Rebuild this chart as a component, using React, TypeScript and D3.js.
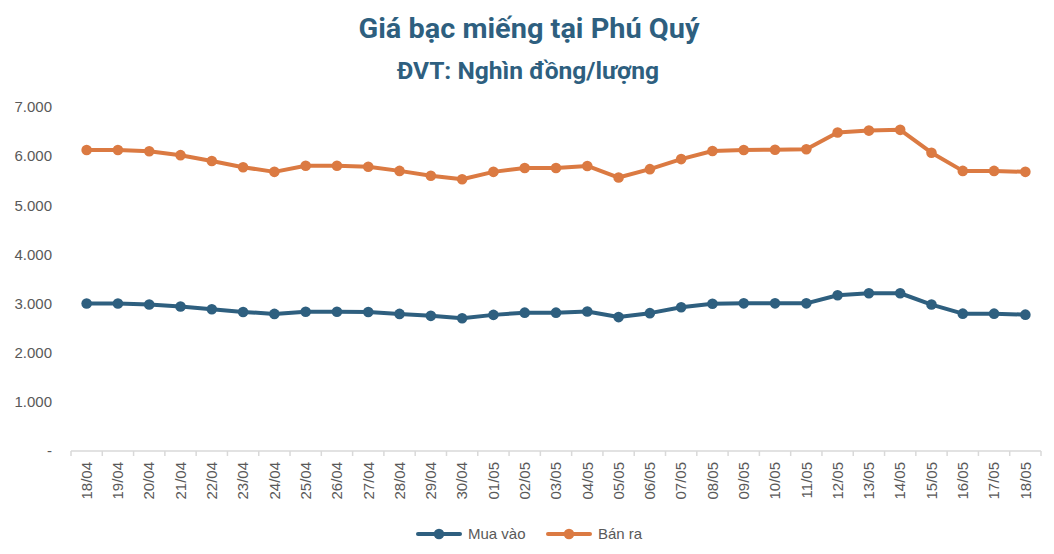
import React from "react";
import * as d3 from "d3";

const dates = [
  "18/04", "19/04", "20/04", "21/04", "22/04", "23/04", "24/04", "25/04", "26/04", "27/04",
  "28/04", "29/04", "30/04", "01/05", "02/05", "03/05", "04/05", "05/05", "06/05", "07/05",
  "08/05", "09/05", "10/05", "11/05", "12/05", "13/05", "14/05", "15/05", "16/05", "17/05", "18/05",
];

const muaVao = [
  3000, 3000, 2980, 2940, 2885, 2830, 2790, 2835, 2835, 2830,
  2790, 2750, 2700, 2770, 2815, 2815, 2840, 2725, 2805, 2925,
  2995, 3005, 3005, 3005, 3170, 3210, 3210, 2980, 2795, 2795, 2775,
];

const banRa = [
  6125, 6125, 6100, 6020, 5900, 5775, 5680, 5805, 5805, 5785,
  5700, 5600, 5530, 5680, 5760, 5760, 5800, 5565, 5735, 5940,
  6105, 6125, 6130, 6140, 6480, 6520, 6535, 6070, 5700, 5700, 5680,
];

const yTicks = [0, 1000, 2000, 3000, 4000, 5000, 6000, 7000];

const BLUE = "#2e5f7f";
const ORANGE = "#db7a42";
const TEXT = "#595959";
const FONT = "'Liberation Sans', Arial, sans-serif";
const TITLE_FONT = "'Liberation Sans Narrow', 'Roboto', 'Liberation Sans', sans-serif";

const W = 1054;
const H = 554;

const vn = d3.formatLocale({ decimal: ",", thousands: ".", grouping: [3], currency: ["", ""] });
const fmt = vn.format(",d");

export default function App() {
  const x = d3.scaleBand<string>().domain(dates).range([71, 1041]).padding(0);
  const y = d3.scaleLinear().domain([0, 7000]).range([451, 107]);
  const cx = (d: string) => (x(d) ?? 0) + x.bandwidth() / 2;

  const line = d3.line<number>()
    .x((_, i) => cx(dates[i]))
    .y((v) => y(v));

  const series = [
    { name: "Mua vào", values: muaVao, color: BLUE },
    { name: "Bán ra", values: banRa, color: ORANGE },
  ];

  const legend = [
    { name: "Mua vào", color: BLUE, x: 418 },
    { name: "Bán ra", color: ORANGE, x: 548 },
  ];

  return (
    <svg
      width={W}
      height={H}
      style={{ position: "absolute", left: 0, top: 0, background: "#fff" }}
    >
      {/* titles */}
      <text
        x={529}
        y={38}
        textAnchor="middle"
        fill={BLUE}
        fontFamily={TITLE_FONT}
        fontWeight="bold"
        fontSize={27}
        textLength={341}
        lengthAdjust="spacingAndGlyphs"
      >
        Giá bạc miếng tại Phú Quý
      </text>
      <text
        x={528}
        y={79}
        textAnchor="middle"
        fill={BLUE}
        fontFamily={TITLE_FONT}
        fontWeight="bold"
        fontSize={24}
        textLength={262}
        lengthAdjust="spacingAndGlyphs"
      >
        ĐVT: Nghìn đồng/lượng
      </text>

      {/* y axis labels */}
      {yTicks.map((t) => (
        <text
          key={t}
          x={52}
          y={y(t)}
          dy="0.35em"
          textAnchor="end"
          fill={TEXT}
          fontFamily={FONT}
          fontSize={15}
        >
          {t === 0 ? "-" : fmt(t)}
        </text>
      ))}

      {/* x axis */}
      <line x1={71} x2={1041} y1={y(0)} y2={y(0)} stroke="#d9d9d9" strokeWidth={1.5} />
      {dates.concat(["end"]).map((d, i) => {
        const px = 71 + i * x.bandwidth();
        return <line key={"t" + i} x1={px} x2={px} y1={y(0)} y2={y(0) + 5} stroke="#d9d9d9" strokeWidth={1.5} />;
      })}
      {dates.map((d) => (
        <text
          key={d}
          transform={`translate(${cx(d)},${y(0) + 11}) rotate(-90)`}
          dy="0.35em"
          textAnchor="end"
          fill={TEXT}
          fontFamily={FONT}
          fontSize={15}
        >
          {d}
        </text>
      ))}

      {/* series */}
      {series.map((s) => (
        <g key={s.name}>
          <path d={line(s.values) ?? ""} fill="none" stroke={s.color} strokeWidth={4} strokeLinejoin="round" />
          {s.values.map((v, i) => (
            <circle key={i} cx={cx(dates[i])} cy={y(v)} r={5.3} fill={s.color} />
          ))}
        </g>
      ))}

      {/* legend */}
      {legend.map((l) => (
        <g key={l.name}>
          <line x1={l.x} x2={l.x + 42} y1={534} y2={534} stroke={l.color} strokeWidth={4} strokeLinecap="round" />
          <circle cx={l.x + 21} cy={534} r={5.3} fill={l.color} />
          <text x={l.x + 50} y={534} dy="0.35em" fill={TEXT} fontFamily={FONT} fontSize={15}>
            {l.name}
          </text>
        </g>
      ))}
    </svg>
  );
}
